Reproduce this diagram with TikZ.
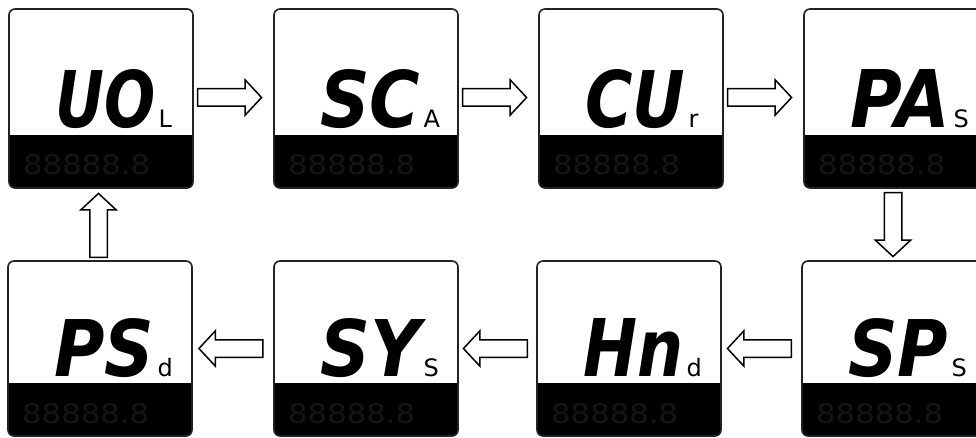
\documentclass[tikz,border=0pt]{standalone}
\usepackage{fontspec}
\setmainfont{DejaVu Sans}
\usetikzlibrary{shapes.arrows,calc}
\definecolor{frame}{HTML}{222222}
\definecolor{ghost}{HTML}{151515}
\begin{document}
\begin{tikzpicture}[x=1pt,y=1pt,
  panel/.style={rounded corners=6pt, fill=white, minimum width=184pt, inner sep=0pt, outer sep=0pt},
  rim/.style={draw=frame, line width=1.6pt, rounded corners=6pt},
  bigtxt/.style={inner sep=0pt, anchor=base west, font=\bfseries\itshape},
  smalltxt/.style={inner sep=0pt, anchor=base west, font=\fontsize{24}{24}\selectfont},
  ghosttxt/.style={inner sep=0pt, anchor=base west, text=ghost},
  blockarr/.style={single arrow, draw=black, line width=1.5pt, fill=white,
    minimum height=64pt, single arrow head extend=9pt, text height=0pt, text depth=0pt, text width=0pt,
    single arrow tip angle=94, single arrow head indent=0pt, inner xsep=0pt, inner ysep=8pt, outer sep=0pt},
  vblockarr/.style={blockarr, inner xsep=8pt, inner ysep=0pt}]
\useasboundingbox (0,0) rectangle (976,437);
\clip (0,0) rectangle (976,437);
\fill[white] (0,0) rectangle (976,437);
\foreach \n/\cx/\cy/\h/\bt/\st in {
  p1/101/338.5/179/UO/L, p2/366/338.5/179/SC/A, p3/631/338.5/179/CU/r, p4/896/338.5/179/PA/S,
  p5/894/88.5/175/SP/S, p6/629/88.5/175/Hn/d, p7/366/88.5/175/SY/S, p8/100/88.5/175/PS/d}{
  \node[panel, minimum height=\h pt] (\n) at (\cx,\cy) {};
  \begin{scope}
    \clip[rounded corners=6pt] (\n.south west) rectangle (\n.north east);
    \fill[black] (\n.south west) rectangle ($(\n.south east)+(0,53)$);
  \end{scope}
  \draw[rim] (\n.south west) rectangle (\n.north east);
  \node[bigtxt] (\n-t) at ($(\n.south west)+(46,60)$) {\resizebox{100pt}{58pt}{\bt}};
  \node[smalltxt] (\n-s) at ($(\n-t.base east)+(3,0)$) {\st};
  \node[ghosttxt] (\n-g) at ($(\n.south west)+(14,13)$) {\resizebox{127pt}{20pt}{88888.8}};
}
\node[blockarr] (a12) at ($(p1.east)!0.5!(p2.west)+(-8,1)$) {};
\node[blockarr] (a23) at ($(p2.east)!0.5!(p3.west)+(-8,1)$) {};
\node[blockarr] (a34) at ($(p3.east)!0.5!(p4.west)+(-8,1)$) {};
\node[vblockarr, shape border rotate=270] (a45) at ($(p4.south)!0.5!(p5.north)+(-2,4)$) {};
\node[blockarr, shape border rotate=180] (a56) at ($(p5.west)!0.5!(p6.east)+(2,0)$) {};
\node[blockarr, shape border rotate=180] (a67) at ($(p6.west)!0.5!(p7.east)+(2,0)$) {};
\node[blockarr, shape border rotate=180] (a78) at ($(p7.west)!0.5!(p8.east)+(2,0)$) {};
\node[vblockarr, shape border rotate=90] (a81) at ($(p8.north)!0.5!(p1.south)+(-2,-5)$) {};
\end{tikzpicture}
\end{document}
